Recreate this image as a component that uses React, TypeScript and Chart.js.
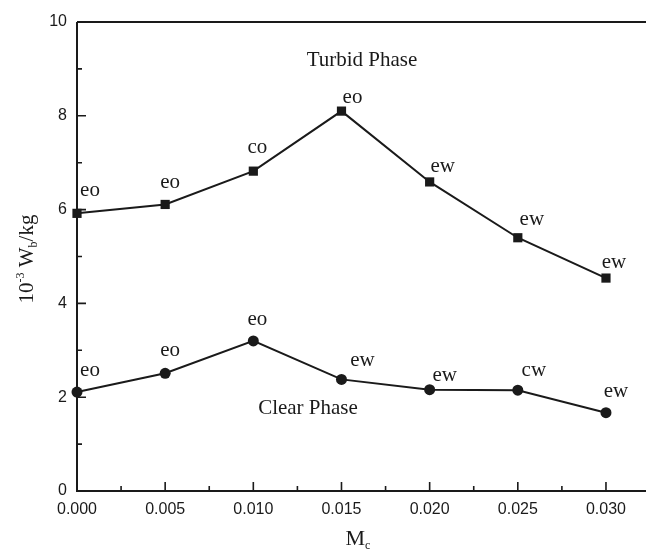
import React, { useEffect, useRef } from "react";
import { Chart, registerables } from "chart.js";

Chart.register(...registerables);

const mcValues = [0.0, 0.005, 0.01, 0.015, 0.02, 0.025, 0.03];
const turbidWb = [5.92, 6.11, 6.82, 8.1, 6.59, 5.4, 4.54];
const clearWb = [2.11, 2.51, 3.2, 2.38, 2.16, 2.15, 1.67];
const turbidLabels = ["eo", "eo", "co", "eo", "ew", "ew", "ew"];
const clearLabels = ["eo", "eo", "eo", "ew", "ew", "cw", "ew"];
const xTickValues = [0.0, 0.005, 0.01, 0.015, 0.02, 0.025, 0.03];
const yTickValues = [0, 2, 4, 6, 8, 10];
const xMinorValues = [0.0025, 0.0075, 0.0125, 0.0175, 0.0225, 0.0275, 0.0325];
const yMinorValues = [1, 3, 5, 7, 9];

// label placement (offsets from marker centre, px)
const turbidLabelOffsets = [[13, -23], [5, -22], [4, -24], [11, -14], [13, -15], [14, -18], [8, -16]];
const clearLabelOffsets = [[13, -22], [5, -23], [4, -21], [21, -19], [15, -14], [16, -20], [10, -21]];

const INK = "#1a1a1a";
const SERIF = "'Liberation Serif', 'Times New Roman', serif";
const SANS = "'Liberation Sans', Arial, sans-serif";

type Part = { t: string; size: number; dy: number };

function drawRich(ctx: CanvasRenderingContext2D, parts: Part[], cx: number, cy: number) {
  let total = 0;
  for (const p of parts) {
    ctx.font = `${p.size}px ${SERIF}`;
    total += ctx.measureText(p.t).width;
  }
  let x = cx - total / 2;
  ctx.textAlign = "left";
  ctx.textBaseline = "alphabetic";
  for (const p of parts) {
    ctx.font = `${p.size}px ${SERIF}`;
    ctx.fillText(p.t, x, cy + p.dy);
    x += ctx.measureText(p.t).width;
  }
}

const framePlugin = {
  id: "frame",
  afterDraw(chart: any) {
    const { ctx, chartArea } = chart;
    const xs = chart.scales.x;
    const ys = chart.scales.y;
    const { left, right, top, bottom } = chartArea;
    ctx.save();
    ctx.strokeStyle = INK;
    ctx.lineWidth = 2;
    ctx.beginPath();
    ctx.moveTo(left, top);
    ctx.lineTo(right + 2, top);
    ctx.moveTo(left, top);
    ctx.lineTo(left, bottom);
    ctx.lineTo(right + 2, bottom);
    ctx.stroke();
    ctx.lineWidth = 1.6;
    ctx.beginPath();
    for (const v of xTickValues) {
      const px = xs.getPixelForValue(v);
      ctx.moveTo(px, bottom);
      ctx.lineTo(px, bottom - 9);
    }
    for (const v of xMinorValues) {
      const px = xs.getPixelForValue(v);
      if (px > right) continue;
      ctx.moveTo(px, bottom);
      ctx.lineTo(px, bottom - 5);
    }
    for (const v of yTickValues) {
      const py = ys.getPixelForValue(v);
      ctx.moveTo(left, py);
      ctx.lineTo(left + 9, py);
    }
    for (const v of yMinorValues) {
      const py = ys.getPixelForValue(v);
      ctx.moveTo(left, py);
      ctx.lineTo(left + 5, py);
    }
    ctx.stroke();

    ctx.fillStyle = INK;
    // Phase annotations
    ctx.font = `21px ${SERIF}`;
    ctx.textAlign = "center";
    ctx.textBaseline = "middle";
    ctx.fillText("Turbid Phase", 362, 60);
    ctx.fillText("Clear Phase", 308, 408);

    // point labels
    const sets = [
      { labels: turbidLabels, offs: turbidLabelOffsets, idx: 0 },
      { labels: clearLabels, offs: clearLabelOffsets, idx: 1 },
    ];
    for (const s of sets) {
      const meta = chart.getDatasetMeta(s.idx);
      meta.data.forEach((pt: any, i: number) => {
        ctx.fillText(s.labels[i], pt.x + s.offs[i][0], pt.y + s.offs[i][1]);
      });
    }

    // x title
    drawRich(
      ctx,
      [
        { t: "M", size: 22, dy: 0 },
        { t: "c", size: 12, dy: 4 },
      ],
      358,
      545
    );

    // y title
    ctx.save();
    ctx.translate(33, 259);
    ctx.rotate(-Math.PI / 2);
    drawRich(
      ctx,
      [
        { t: "10", size: 21, dy: 0 },
        { t: "-3", size: 12, dy: -9 },
        { t: " W", size: 21, dy: 0 },
        { t: "b", size: 12, dy: 4 },
        { t: "/kg", size: 21, dy: 0 },
      ],
      0,
      0
    );
    ctx.restore();
    ctx.restore();
  },
};

export default function App() {
  const ref = useRef<HTMLCanvasElement | null>(null);
  useEffect(() => {
    document.body.style.margin = "0";
    const canvas = ref.current;
    if (!canvas) return;
    const chart = new Chart(canvas, {
      type: "line",
      data: {
        datasets: [
          {
            label: "Turbid Phase",
            data: mcValues.map((x, i) => ({ x, y: turbidWb[i] })),
            borderColor: INK,
            backgroundColor: INK,
            borderWidth: 2,
            pointStyle: "rect",
            pointRadius: 6.5,
            pointBorderWidth: 0,
            tension: 0,
            clip: false,
          },
          {
            label: "Clear Phase",
            data: mcValues.map((x, i) => ({ x, y: clearWb[i] })),
            borderColor: INK,
            backgroundColor: INK,
            borderWidth: 2,
            pointStyle: "circle",
            pointRadius: 5.5,
            pointBorderWidth: 0,
            tension: 0,
            clip: false,
          },
        ],
      },
      options: {
        responsive: false,
        animation: false,
        layout: { autoPadding: false, padding: { top: 22, right: 0, left: 0, bottom: 0 } },
        plugins: {
          legend: { display: false },
          tooltip: { enabled: false },
        },
        scales: {
          x: {
            type: "linear",
            position: "bottom",
            min: 0,
            max: 0.03227,
            grid: { display: false, drawTicks: false },
            border: { display: false },
            afterBuildTicks: (scale: any) => {
              scale.ticks = xTickValues.map((v) => ({ value: v }));
            },
            afterFit: (scale: any) => {
              scale.height = 61;
              scale.paddingLeft = 0;
              scale.paddingRight = 0;
            },
            ticks: {
              padding: 9,
              color: INK,
              font: { family: SANS, size: 16 },
              maxRotation: 0,
              callback: (v: any) => Number(v).toFixed(3),
            },
          },
          y: {
            type: "linear",
            min: 0,
            max: 10,
            grid: { display: false, drawTicks: false },
            border: { display: false },
            afterBuildTicks: (scale: any) => {
              scale.ticks = yTickValues.map((v) => ({ value: v }));
            },
            afterFit: (scale: any) => {
              scale.width = 77;
            },
            ticks: {
              padding: 10,
              color: INK,
              font: { family: SANS, size: 16 },
              callback: (v: any) => String(v),
            },
          },
        },
      },
      plugins: [framePlugin],
    } as any);
    return () => chart.destroy();
  }, []);
  return (
    <div style={{ width: 646, height: 552, background: "#fff" }}>
      <canvas ref={ref} width={646} height={552} style={{ display: "block" }} />
    </div>
  );
}
